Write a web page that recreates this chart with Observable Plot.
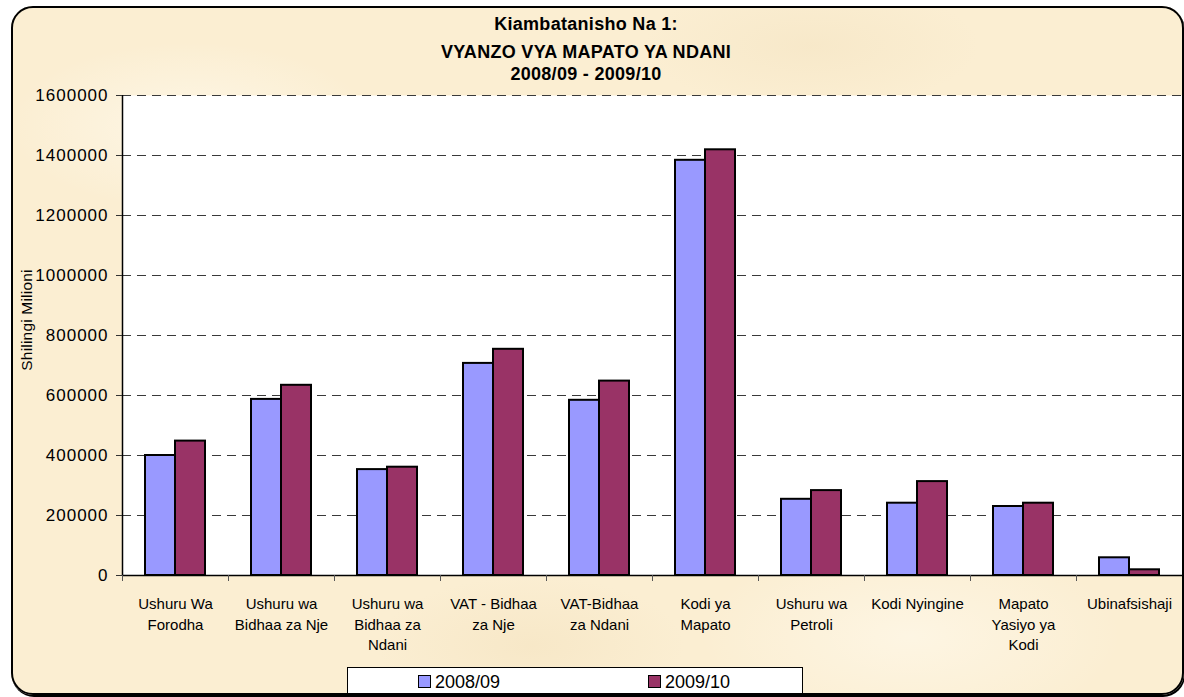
<!DOCTYPE html>
<html>
<head>
<meta charset="utf-8">
<script src="https://cdn.jsdelivr.net/npm/d3@7"></script>
<script src="https://cdn.jsdelivr.net/npm/@observablehq/plot@0.6"></script>
<style>
  html, body { margin: 0; padding: 0; width: 1184px; height: 697px; background: #ffffff; overflow: hidden; }
  body { position: relative; font-family: "Liberation Sans", Arial, sans-serif; }
  #bg {
    position: absolute; left: 11px; top: 6px; width: 1173px; height: 689px; box-sizing: border-box;
    border-radius: 22px;
    background:
      radial-gradient(ellipse 260px 120px at 180px 120px, rgba(255,250,238,0.7), rgba(255,250,238,0) 70%),
      radial-gradient(ellipse 300px 140px at 900px 630px, rgba(255,250,238,0.6), rgba(255,250,238,0) 70%),
      radial-gradient(ellipse 220px 100px at 520px 640px, rgba(240,220,180,0.35), rgba(240,220,180,0) 70%),
      radial-gradient(ellipse 240px 90px at 800px 40px, rgba(240,222,185,0.35), rgba(240,222,185,0) 70%),
      #fbeed2;
  }
  #border {
    position: absolute; left: 11px; top: 6px; width: 1173px; height: 689px; box-sizing: border-box;
    border: 2px solid #000; border-radius: 22px; box-shadow: 1px 2px 0 #000; pointer-events: none;
  }
  .title { position: absolute; left: 336px; width: 500px; text-align: center; font-weight: bold; font-size: 18px; line-height: 18px; color: #000; letter-spacing: 0.3px; }
  #ylabel { position: absolute; left: 27px; top: 320px; transform: translate(-50%, -50%) rotate(-90deg); font-size: 15.5px; white-space: nowrap; color: #000; letter-spacing: 0.2px; }
  #chart { position: absolute; left: 0; top: 80px; }
  #legend { position: absolute; left: 347px; top: 667px; width: 456px; height: 30px; box-sizing: border-box; background: #fff; border: 1px solid #000; }
  .lg { position: absolute; top: 5px; font-size: 18px; line-height: 18px; color: #000; white-space: nowrap; }
  .sw { display: inline-block; width: 11px; height: 11px; border: 1px solid #000; margin-right: 4px; vertical-align: 0px; }
</style>
</head>
<body>
<div id="bg"></div>
<div class="title" style="top:15px">Kiambatanisho Na 1:</div>
<div class="title" style="top:43px">VYANZO VYA MAPATO YA NDANI</div>
<div class="title" style="top:65px">2008/09 - 2009/10</div>
<div id="ylabel">Shilingi Milioni</div>
<div id="chart"></div>
<div id="legend"></div>
<div id="border"></div>
<script>
const categories = [
  "Ushuru Wa\nForodha",
  "Ushuru wa\nBidhaa za Nje",
  "Ushuru wa\nBidhaa za\nNdani",
  "VAT - Bidhaa\nza Nje",
  "VAT-Bidhaa\nza Ndani",
  "Kodi ya\nMapato",
  "Ushuru wa\nPetroli",
  "Kodi Nyingine",
  "Mapato\nYasiyo ya\nKodi",
  "Ubinafsishaji"
];
const series = ["2008/09", "2009/10"];
const seriesColors = ["#9999FF", "#993366"];
const values2008 = [400000, 587000, 353000, 707000, 584000, 1384000, 254000, 241000, 230000, 59000];
const values2009 = [448000, 634000, 361000, 754000, 648000, 1419000, 283000, 313000, 241000, 19000];
const yTicks = [0, 200000, 400000, 600000, 800000, 1000000, 1200000, 1400000, 1600000];

const rows = categories.map((label, i) => ({i, label, a: values2008[i], b: values2009[i]}));
const bounds = d3.range(categories.length + 1);
const pad = 0.217;

const plot = Plot.plot({
  width: 1184,
  height: 580,
  marginTop: 15,
  marginBottom: 85,
  marginLeft: 122,
  marginRight: 2,
  style: {background: "transparent", fontFamily: "'Liberation Sans', Arial, sans-serif", overflow: "visible", color: "#000"},
  x: {domain: [0, categories.length]},
  y: {domain: [0, 1600000]},
  marks: [
    Plot.frame({fill: "white", stroke: null}),
    Plot.ruleY(yTicks.slice(1), {stroke: "#3a3a3a", strokeDasharray: "9,6", strokeWidth: 1}),
    Plot.rect(rows, {x1: d => d.i + pad, x2: d => d.i + 0.5, y1: 0, y2: "a", fill: seriesColors[0], stroke: "#000", strokeWidth: 2}),
    Plot.rect(rows, {x1: d => d.i + 0.5, x2: d => d.i + 1 - pad, y1: 0, y2: "b", fill: seriesColors[1], stroke: "#000", strokeWidth: 2}),
    Plot.ruleX([0], {stroke: "#000", strokeWidth: 1.5}),
    Plot.ruleY([0], {stroke: "#000", strokeWidth: 1.5}),
    Plot.axisY({ticks: yTicks, tickSize: 6, tickPadding: 8, tickFormat: d => String(d), fontSize: 17, label: null, stroke: "#333"}),
    Plot.axisX({ticks: bounds, tickSize: 6, tickFormat: () => "", label: null, stroke: "#555"}),
    Plot.text(rows, {x: d => d.i + 0.5, y: 0, text: "label", lineAnchor: "top", dy: 19, fontSize: 15, lineHeight: 1.37, fill: "#000"})
  ]
});
d3.select(plot).selectAll('g[aria-label="y-axis tick label"] text').style("letter-spacing", "1px");
document.getElementById("chart").appendChild(plot);

const legend = document.getElementById("legend");
const legendX = [70, 300];
series.forEach((s, k) => {
  const item = document.createElement("div");
  item.className = "lg";
  item.style.left = legendX[k] + "px";
  const sw = document.createElement("span");
  sw.className = "sw";
  sw.style.background = seriesColors[k];
  item.appendChild(sw);
  item.appendChild(document.createTextNode(s));
  legend.appendChild(item);
});
</script>
</body>
</html>
